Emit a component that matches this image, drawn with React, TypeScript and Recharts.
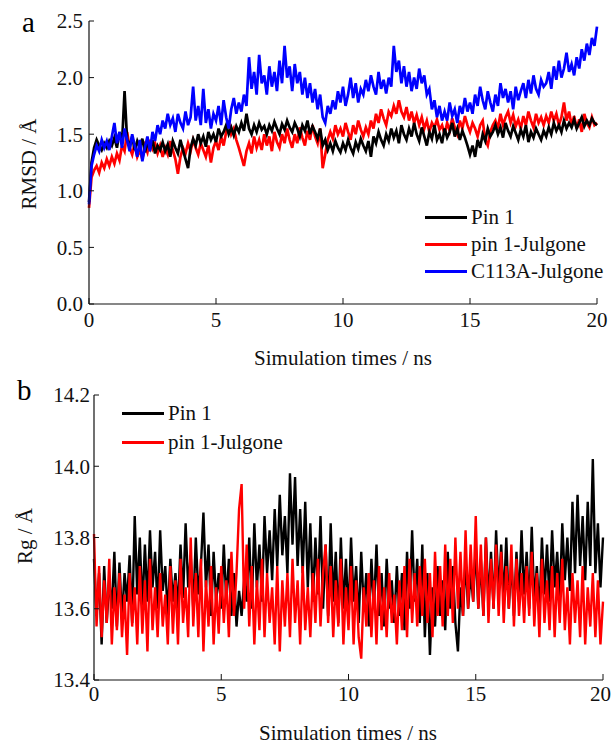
import { LineChart, Line, XAxis, YAxis, Legend } from 'recharts'

const FONT = '"Liberation Serif", "Times New Roman", serif'

// sampling interval of both trajectories, ns
const TIME_STEP = 0.1
const timeTicks = [0, 5, 10, 15, 20]
const rmsdTicks = [0, 0.5, 1.0, 1.5, 2.0, 2.5]
const rgTicks = [13.4, 13.6, 13.8, 14.0, 14.2]

// (a) RMSD, one row per ns
const pin1Rmsd = [
  0.90, 1.25, 1.38, 1.45, 1.40, 1.36, 1.42, 1.38, 1.44, 1.40,
  1.47, 1.38, 1.52, 1.42, 1.88, 1.45, 1.40, 1.48, 1.36, 1.44,
  1.38, 1.46, 1.34, 1.42, 1.37, 1.45, 1.33, 1.40, 1.36, 1.43,
  1.35, 1.41, 1.30, 1.44, 1.38, 1.33, 1.45, 1.36, 1.28, 1.20,
  1.38, 1.46, 1.40, 1.50, 1.42, 1.48, 1.39, 1.52, 1.45, 1.50,
  1.43, 1.55, 1.48, 1.52, 1.58, 1.50, 1.56, 1.49, 1.57, 1.52,
  1.60, 1.53, 1.68, 1.55, 1.50, 1.58, 1.52, 1.60, 1.54, 1.57,
  1.50, 1.58, 1.53, 1.61, 1.55, 1.50, 1.59, 1.54, 1.62, 1.56,
  1.52, 1.60, 1.55, 1.48, 1.58, 1.53, 1.62, 1.50, 1.57, 1.52,
  1.46, 1.55, 1.40, 1.45, 1.36, 1.42, 1.35, 1.44, 1.38, 1.34,
  1.42, 1.36, 1.45, 1.38, 1.33, 1.43, 1.37, 1.46, 1.40, 1.35,
  1.44, 1.30, 1.48, 1.42, 1.52, 1.45, 1.40, 1.50, 1.44, 1.55,
  1.47, 1.53, 1.42, 1.58, 1.50, 1.45, 1.55, 1.48, 1.60, 1.50,
  1.44, 1.56, 1.48, 1.40, 1.52, 1.46, 1.58, 1.45, 1.50, 1.42,
  1.55, 1.47, 1.52, 1.60, 1.48, 1.55, 1.45, 1.53, 1.47, 1.40,
  1.32, 1.40, 1.30, 1.45, 1.38, 1.50, 1.44, 1.55, 1.48, 1.52,
  1.58, 1.50, 1.56, 1.47, 1.60, 1.53, 1.48, 1.57, 1.51, 1.45,
  1.54, 1.48, 1.58, 1.43, 1.52, 1.47, 1.55, 1.50, 1.45, 1.53,
  1.48, 1.56, 1.50, 1.60, 1.53, 1.58, 1.52, 1.62, 1.55, 1.60,
  1.56, 1.63, 1.55, 1.60, 1.65, 1.57, 1.62, 1.58, 1.64, 1.60,
  1.58,
]

const pin1JulRmsd = [
  0.85, 1.12, 1.18, 1.22, 1.16, 1.25, 1.20, 1.28, 1.22, 1.30,
  1.24, 1.33, 1.27, 1.40, 1.35, 1.52, 1.38, 1.32, 1.42, 1.30,
  1.36, 1.28, 1.40, 1.34, 1.45, 1.37, 1.42, 1.33, 1.40, 1.30,
  1.38, 1.32, 1.44, 1.36, 1.28, 1.15, 1.30, 1.38, 1.33, 1.42,
  1.35, 1.45, 1.38, 1.32, 1.42, 1.36, 1.30, 1.40, 1.25, 1.38,
  1.44, 1.36, 1.48, 1.40, 1.52, 1.62, 1.50, 1.55, 1.45, 1.38,
  1.30, 1.22, 1.35, 1.42, 1.33, 1.48, 1.38, 1.45, 1.36, 1.50,
  1.40, 1.48, 1.35, 1.52, 1.43, 1.38, 1.50, 1.42, 1.55, 1.45,
  1.38, 1.50, 1.42, 1.56, 1.47, 1.40, 1.53, 1.45, 1.58, 1.48,
  1.42, 1.55, 1.20, 1.32, 1.45, 1.52, 1.46, 1.58, 1.50, 1.55,
  1.48, 1.60, 1.52, 1.45, 1.58, 1.50, 1.62, 1.54, 1.48, 1.56,
  1.50, 1.62, 1.55, 1.68, 1.60, 1.72, 1.64, 1.58, 1.70, 1.66,
  1.75, 1.68, 1.80, 1.70, 1.65, 1.74, 1.62, 1.70, 1.60, 1.67,
  1.58, 1.65, 1.55, 1.62, 1.52, 1.60, 1.56, 1.63, 1.54, 1.58,
  1.50, 1.60, 1.53, 1.64, 1.56, 1.50, 1.62, 1.55, 1.66, 1.58,
  1.52, 1.60, 1.55, 1.48, 1.58, 1.62, 1.45, 1.40, 1.52, 1.58,
  1.62, 1.55, 1.68, 1.58, 1.65, 1.70, 1.60, 1.67, 1.57, 1.63,
  1.55, 1.66, 1.58, 1.70, 1.62, 1.56, 1.68, 1.60, 1.65, 1.58,
  1.66, 1.60, 1.70, 1.62, 1.68, 1.58, 1.65, 1.78, 1.62, 1.70,
  1.58, 1.66, 1.55, 1.63, 1.52, 1.68, 1.60, 1.56, 1.65, 1.58,
  1.60,
]

const c113aJulRmsd = [
  0.88, 1.22, 1.32, 1.40, 1.35, 1.45, 1.38, 1.44, 1.36, 1.48,
  1.60, 1.42, 1.52, 1.38, 1.55, 1.45, 1.35, 1.50, 1.40, 1.30,
  1.45, 1.26, 1.38, 1.48, 1.35, 1.52, 1.44, 1.58, 1.50, 1.62,
  1.55, 1.68, 1.58, 1.64, 1.52, 1.68, 1.60, 1.55, 1.70, 1.58,
  1.65, 1.92, 1.62, 1.75, 1.58, 1.90, 1.60, 1.72, 1.55, 1.68,
  1.62, 1.75, 1.58, 1.80, 1.65, 1.55, 1.72, 1.82, 1.68, 1.78,
  1.70, 1.85, 1.75, 2.18, 1.90, 2.05, 1.85, 2.20, 1.95, 2.02,
  1.85, 2.10, 1.92, 2.05, 1.88, 2.15, 1.95, 2.28, 2.00, 2.10,
  1.88, 2.12, 1.95, 2.05, 1.85, 2.00, 1.82, 1.95, 1.78, 1.90,
  1.72, 1.85, 1.65, 1.60, 1.75, 1.68, 1.80, 1.72, 1.88, 1.78,
  1.92, 1.75, 1.85, 2.00, 1.82, 1.95, 1.78, 1.90, 1.85, 1.98,
  1.88, 2.02, 1.92, 1.85, 2.05, 1.90, 1.98, 1.86, 2.00, 1.92,
  2.28, 2.05, 2.15, 1.95, 2.10, 1.92, 2.05, 1.88, 2.00, 1.90,
  2.08, 1.95, 2.02, 1.85, 1.90, 1.72, 1.80, 1.65, 1.75, 1.62,
  1.70, 1.62, 1.78, 1.66, 1.72, 1.60, 1.75, 1.68, 1.82, 1.70,
  1.78, 1.68, 1.85, 1.75, 1.92, 1.80, 1.72, 1.88, 1.78, 1.70,
  1.85, 1.75, 1.95, 1.82, 1.90, 1.78, 1.88, 1.72, 1.92, 1.80,
  1.88, 1.95, 1.82, 1.98, 1.86, 2.02, 1.90, 1.85, 1.98, 1.92,
  1.95, 2.05, 1.90, 2.10, 1.98, 2.15, 2.00, 2.08, 2.22, 2.05,
  2.12, 2.02, 2.18, 2.08, 2.25, 2.15, 2.30, 2.20, 2.35, 2.28,
  2.45,
]

// (b) radius of gyration, one row per ns
const pin1Rg = [
  13.74, 13.58, 13.70, 13.50, 13.72, 13.56, 13.68, 13.60, 13.76, 13.55,
  13.73, 13.57, 13.70, 13.62, 13.75, 13.56, 13.86, 13.64, 13.80, 13.60,
  13.78, 13.62, 13.82, 13.66, 13.76, 13.60, 13.82, 13.65, 13.72, 13.58,
  13.74, 13.62, 13.70, 13.60, 13.78, 13.63, 13.84, 13.66, 13.75, 13.60,
  13.80, 13.64, 13.72, 13.87, 13.66, 13.78, 13.58, 13.76, 13.62, 13.70,
  13.60, 13.78, 13.62, 13.74, 13.58, 13.70, 13.55, 13.65, 13.58, 13.68,
  13.62, 13.80, 13.60, 13.84, 13.66, 13.78, 13.62, 13.86, 13.70, 13.82,
  13.68, 13.88, 13.72, 13.92, 13.75, 13.86, 13.70, 13.98, 13.78, 13.97,
  13.72, 13.88, 13.70, 13.90, 13.66, 13.84, 13.62, 13.80, 13.64, 13.86,
  13.60, 13.78, 13.58, 13.84, 13.62, 13.76, 13.56, 13.80, 13.60, 13.74,
  13.58, 13.80, 13.62, 13.72, 13.56, 13.76, 13.60, 13.70, 13.55, 13.74,
  13.60, 13.78, 13.58, 13.70, 13.55, 13.74, 13.60, 13.68, 13.56, 13.72,
  13.58, 13.70, 13.54, 13.76, 13.60, 13.82, 13.62, 13.74, 13.56, 13.78,
  13.52, 13.70, 13.47, 13.66, 13.55, 13.72, 13.58, 13.68, 13.54, 13.76,
  13.60, 13.72, 13.56, 13.48, 13.66, 13.58, 13.74, 13.60, 13.70, 13.62,
  13.78, 13.60, 13.74, 13.58, 13.80, 13.62, 13.76, 13.60, 13.82, 13.64,
  13.78, 13.62, 13.80, 13.60, 13.74, 13.58, 13.76, 13.62, 13.82, 13.64,
  13.76, 13.60, 13.83, 13.62, 13.72, 13.58, 13.80, 13.64, 13.78, 13.62,
  13.82, 13.66, 13.76, 13.62, 13.84, 13.68, 13.80, 13.65, 13.90, 13.70,
  13.92, 13.72, 13.86, 13.68, 13.90, 13.72, 14.02, 13.70, 13.84, 13.66,
  13.80,
]

const pin1JulRg = [
  13.81, 13.55, 13.72, 13.52, 13.68, 13.56, 13.74, 13.50, 13.66, 13.54,
  13.70, 13.52, 13.64, 13.47, 13.70, 13.55, 13.66, 13.50, 13.72, 13.53,
  13.68, 13.48, 13.74, 13.54, 13.66, 13.52, 13.70, 13.55, 13.64, 13.50,
  13.72, 13.53, 13.68, 13.50, 13.74, 13.56, 13.66, 13.52, 13.80, 13.55,
  13.70, 13.52, 13.74, 13.48, 13.68, 13.55, 13.72, 13.50, 13.66, 13.53,
  13.72, 13.56, 13.68, 13.52, 13.76, 13.58, 13.70, 13.88, 13.95, 13.60,
  13.78, 13.55, 13.72, 13.50, 13.68, 13.54, 13.74, 13.52, 13.70, 13.56,
  13.66, 13.50, 13.72, 13.48, 13.68, 13.55, 13.70, 13.52, 13.74, 13.56,
  13.68, 13.50, 13.72, 13.54, 13.66, 13.52, 13.70, 13.56, 13.74, 13.55,
  13.70, 13.78, 13.56, 13.72, 13.52, 13.68, 13.55, 13.74, 13.50, 13.66,
  13.54, 13.72, 13.50, 13.68, 13.52, 13.46, 13.66, 13.55, 13.70, 13.52,
  13.68, 13.50, 13.72, 13.54, 13.66, 13.52, 13.70, 13.56, 13.64, 13.50,
  13.68, 13.54, 13.72, 13.52, 13.74, 13.56, 13.70, 13.55, 13.72, 13.58,
  13.74, 13.56, 13.70, 13.52, 13.76, 13.58, 13.72, 13.55, 13.78, 13.58,
  13.74, 13.56, 13.80, 13.60, 13.76, 13.58, 13.82, 13.60, 13.78, 13.62,
  13.86, 13.60, 13.78, 13.58, 13.80, 13.56, 13.74, 13.60, 13.78, 13.58,
  13.76, 13.56, 13.72, 13.60, 13.78, 13.55, 13.74, 13.58, 13.70, 13.56,
  13.72, 13.58, 13.76, 13.55, 13.70, 13.52, 13.74, 13.56, 13.68, 13.54,
  13.72, 13.52, 13.70, 13.56, 13.74, 13.54, 13.66, 13.50, 13.70, 13.56,
  13.68, 13.52, 13.72, 13.50, 13.66, 13.55, 13.70, 13.52, 13.68, 13.50,
  13.62,
]

const rmsdData = pin1Rmsd.map((v, i) => ({
  t: +(i * TIME_STEP).toFixed(1),
  pin1: v,
  pin1Jul: pin1JulRmsd[i],
  c113a: c113aJulRmsd[i],
}))

const rgData = pin1Rg.map((v, i) => ({
  t: +(i * TIME_STEP).toFixed(1),
  pin1: v,
  pin1Jul: pin1JulRg[i],
}))

const tickStyle = { fill: '#111', fontSize: 21, fontFamily: FONT }
const axisLine = { stroke: '#111', strokeWidth: 1.2 }

type Item = { name: string; color: string }

const legendA: Item[] = [
  { name: 'Pin 1', color: '#000000' },
  { name: 'pin 1-Julgone', color: '#ff0000' },
  { name: 'C113A-Julgone', color: '#0000ff' },
]
const legendB: Item[] = [
  { name: 'Pin 1', color: '#000000' },
  { name: 'pin 1-Julgone', color: '#ff0000' },
]

function LegendBox({ items, rowH }: { items: Item[]; rowH: number }) {
  return (
    <div style={{ fontFamily: FONT, fontSize: 21, color: '#111' }}>
      {items.map((it) => (
        <div key={it.name} style={{ display: 'flex', alignItems: 'center', height: rowH, lineHeight: `${rowH}px` }}>
          <span style={{ display: 'inline-block', width: 42, height: 3, background: it.color, marginRight: 4 }} />
          <span style={{ fontFamily: FONT }}>{it.name}</span>
        </div>
      ))}
    </div>
  )
}

const xTitle = (cx: number, cy: number) => () => (
  <text x={cx} y={cy} textAnchor="middle" dominantBaseline="central" fontFamily={FONT} fontSize={21} fill="#111">
    Simulation times / ns
  </text>
)

const yTitle = (cx: number, cy: number, value: string) => () => (
  <text
    x={cx}
    y={cy}
    transform={`rotate(-90 ${cx} ${cy})`}
    textAnchor="middle"
    dominantBaseline="central"
    fontFamily={FONT}
    fontSize={21}
    fill="#111"
  >
    {value}
  </text>
)

export default function App() {
  return (
    <div style={{ position: 'absolute', left: 0, top: 0, width: 611, height: 745, background: '#fff', fontFamily: FONT }}>
      <div style={{ position: 'absolute', left: 22, top: 8, fontFamily: FONT, fontSize: 29, lineHeight: '29px' }}>a</div>
      <div style={{ position: 'absolute', left: 17, top: 376, fontFamily: FONT, fontSize: 29, lineHeight: '29px' }}>b</div>

      <div style={{ position: 'absolute', left: 0, top: 0 }}>
        <LineChart width={611} height={375} data={rmsdData} margin={{ top: 21, right: 14, left: 0, bottom: 0 }}>
          <XAxis
            dataKey="t"
            type="number"
            domain={[0, 20]}
            ticks={timeTicks}
            axisLine={axisLine}
            tickLine={{ stroke: '#111' }}
            tickSize={-6}
            tickMargin={14}
            tick={tickStyle}
            height={71}
            label={{ content: xTitle(343, 358) }}
          />
          <YAxis
            type="number"
            domain={[0, 2.5]}
            ticks={rmsdTicks}
            tickFormatter={(v: number) => v.toFixed(1)}
            axisLine={axisLine}
            tickLine={{ stroke: '#111' }}
            tickSize={-5}
            tickMargin={11}
            tick={tickStyle}
            width={89}
            label={{ content: yTitle(29, 164, 'RMSD / Å') }}
          />
          <Legend
            layout="horizontal"
            verticalAlign="middle"
            align="center"
            content={() => <LegendBox items={legendA} rowH={27} />}
            wrapperStyle={{ left: 425, top: 204, width: 'auto', height: 'auto', bottom: 'auto' }}
          />
          <Line dataKey="pin1Jul" stroke="#ff0000" strokeWidth={2.7} dot={false} isAnimationActive={false} />
          <Line dataKey="pin1" stroke="#000000" strokeWidth={2.7} dot={false} isAnimationActive={false} />
          <Line dataKey="c113a" stroke="#0000ff" strokeWidth={2.7} dot={false} isAnimationActive={false} />
        </LineChart>
      </div>

      <div style={{ position: 'absolute', left: 0, top: 375 }}>
        <LineChart width={611} height={370} data={rgData} margin={{ top: 20, right: 8, left: 0, bottom: 0 }}>
          <XAxis
            dataKey="t"
            type="number"
            domain={[0, 20]}
            ticks={timeTicks}
            axisLine={axisLine}
            tickLine={{ stroke: '#111' }}
            tickSize={-6}
            tickMargin={12}
            tick={tickStyle}
            height={65}
            label={{ content: xTitle(348, 358) }}
          />
          <YAxis
            type="number"
            domain={[13.4, 14.2]}
            ticks={rgTicks}
            tickFormatter={(v: number) => v.toFixed(1)}
            axisLine={axisLine}
            tickLine={{ stroke: '#111' }}
            tickSize={-5}
            tickMargin={9}
            tick={tickStyle}
            width={94}
            label={{ content: yTitle(25, 161, 'Rg / Å') }}
          />
          <Legend
            layout="horizontal"
            verticalAlign="middle"
            align="center"
            content={() => <LegendBox items={legendB} rowH={29} />}
            wrapperStyle={{ left: 122, top: 24, width: 'auto', height: 'auto', bottom: 'auto' }}
          />
          <Line dataKey="pin1" stroke="#000000" strokeWidth={2.4} dot={false} isAnimationActive={false} />
          <Line dataKey="pin1Jul" stroke="#ff0000" strokeWidth={2.4} dot={false} isAnimationActive={false} />
        </LineChart>
      </div>
    </div>
  )
}
